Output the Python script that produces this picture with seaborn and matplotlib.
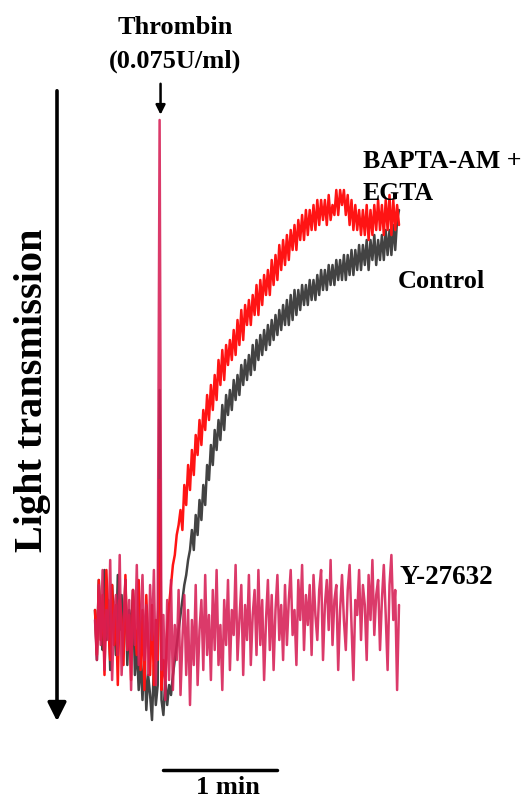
import numpy as np
import pandas as pd
import matplotlib
matplotlib.use("Agg")
import matplotlib.pyplot as plt
import seaborn as sns

# traces sampled every 1 s (t = 0..160 s), values = light transmission (arb. units)
control = [4, -6, 10, 1, -4, 12, -2, 6, -8, 9, 2, -5, 11, 0, 7, -3, 10, -7, 4, -1,
           8, -9, -3, -12, -6, -14, -4, -16, -9, -13, -18, -7, -15, -11,
           48,
           -14, -17, -10, -15, -11, -13, -9,
           -6, -3, 0, 3, 6, 9, 11, 14, 16,
           20, 16, 23, 19, 26, 22, 29, 25, 33, 30,
           37, 33, 40, 36, 42, 38, 45, 40, 47, 43,
           48, 44, 50, 46, 51, 47, 53, 49, 54, 50,
           55, 51, 57, 52, 58, 54, 59, 55, 60, 56,
           61, 57, 62, 58, 63, 59, 64, 60, 65, 61,
           66, 61, 67, 62, 68, 63, 68, 64, 69, 65,
           69, 65, 70, 66, 70, 66, 71, 67, 72, 68,
           72, 68, 73, 69, 73, 69, 74, 70, 74, 70,
           75, 70, 75, 71, 76, 71, 76, 72, 77, 72,
           77, 73, 78, 72, 78, 74, 79, 73, 78, 74,
           79, 74, 80, 75, 80, 75, 81, 76, 82, 84]

bapta = [4, -5, 10, -2, 7, -9, 12, 1, -6, 9, -3, 5, -11, 6, 2, -7, 11, -4, 3, -10,
         8, 0, -5, 10, -8, 4, -12, 7, -3, -9, 5, -11, 2, -6,
         30,
         -12, -6, -10, 0, 5, 9, 13, 15, 19, 21,
         24, 20, 29, 25, 33, 28, 36, 31, 39, 35, 42, 37, 44, 40, 47, 42,
         49, 44, 51, 46, 54, 49, 56, 50, 57, 53,
         58, 54, 60, 55, 62, 57, 64, 58, 65, 61,
         66, 61, 67, 63, 69, 63, 70, 65, 71, 67,
         72, 67, 74, 69, 75, 70, 77, 72, 78, 73,
         79, 74, 80, 76, 81, 76, 82, 78, 83, 78,
         84, 79, 84, 80, 85, 80, 86, 81, 86, 82,
         86, 81, 87, 82, 85, 83, 88, 83, 88, 85,
         88, 83, 87, 81, 86, 80, 85, 80, 84, 79,
         84, 79, 85, 78, 84, 79, 85, 80, 86, 80,
         85, 79, 86, 80, 87, 79, 86, 80, 85, 81]

y27632 = [2, -6, 9, -3, 12, -8, 4, -2, 14, -10, 3, 7, -5, 15, -9, 1, 10, -4, 6, -12,
          8, -3, 13, -7, 2, 11, -6, 5, -9, 9, -2, 12, -11, 4,
          102,
          -8, 3, -14, 6, -10, 10, -12, 1, -6, 8, -13, -2, 7, -9, 4, -15, 2, -7, 9, -11,
          0, 6, -8, 11, -5,
          3, -10, 8, -4, 12, -7, 1, -12, 6, -3, 10, -8, 4, -1, 13, -6, 2, 9, -9, 5,
          -2, 11, -7, 3, 8, -5, 12, -3, 6, -10, 2, 10, -4, 7, -8, 4, 11, -2, 5, -6,
          9, -3, 6, 12, -1, 4, -7, 10, 2, 13, -4, 7, 1, 9, -5, 11, 3, -2, 8, 12,
          -6, 5, 10, 0, 14, -3, 6, 9, -8, 4, 11, 2, -4, 8, 13, 1, -10, 6, 3, 12,
          -2, 9, 5, -6, 11, 2, 14, -1, 7, 10, -4, 6, 13, 3, -8, 9, 15, 2, 8, -12, 5]

thrombin_t = 34.5
scale_start = 36
scale_len = 60  # 1 min

sns.set_style("white")
plt.rcParams['font.family'] = ['Liberation Serif', 'DejaVu Serif']
plt.rcParams['font.weight'] = 'bold'
plt.rcParams['text.color'] = 'black'

fig = plt.figure(figsize=(5.23, 8), dpi=100)
ax = fig.add_axes([0, 0, 1, 1])

for vals, col, a in [(control, '#222222', 0.85), (bapta, '#ff1414', 1.0), (y27632, '#d61f55', 0.88)]:
    df = pd.DataFrame({'t': np.arange(len(vals)), 'v': vals})
    sns.lineplot(data=df, x='t', y='v', ax=ax, color=col, alpha=a, lw=1.8, estimator=None)

ax.set_xlim(-50, 225.26)
ax.set_ylim(-34, 126)
ax.axis('off')

# thrombin arrow
ax.annotate('', xy=(thrombin_t, 102.5), xytext=(thrombin_t, 109.8),
            arrowprops=dict(arrowstyle='-|>', lw=1.8, color='black', mutation_scale=14))
fig.text(0.335, 1 - 28 / 800, 'Thrombin', ha='center', va='center', fontsize=19, fontweight='bold')
fig.text(0.335, 1 - 61 / 800, '(0.075U/ml)', ha='center', va='center', fontsize=19, fontweight='bold')

# scale bar
ax.plot([scale_start, scale_start + scale_len], [-28, -28], color='black', lw=2.5)
ax.text(scale_start + scale_len / 2 + 4, -31.5, '1 min', ha='center', va='center', fontsize=19, fontweight='bold')

# trace labels
fig.text(363 / 523, 1 - 162 / 800, 'BAPTA-AM +', ha='left', va='center', fontsize=18.5, fontweight='bold')
fig.text(363 / 523, 1 - 194 / 800, 'EGTA', ha='left', va='center', fontsize=18.5, fontweight='bold')
fig.text(398 / 523, 1 - 281 / 800, 'Control', ha='left', va='center', fontsize=19, fontweight='bold')
fig.text(400 / 523, 1 - 577 / 800, 'Y-27632', ha='left', va='center', fontsize=19.5, fontweight='bold')

# y arrow
fig.add_artist(matplotlib.patches.FancyArrowPatch((57 / 523, 1 - 88 / 800), (57 / 523, 1 - 724 / 800),
               transform=fig.transFigure, arrowstyle='-|>', lw=2.6, color='black', mutation_scale=28))
fig.text(33 / 523, 1 - 390 / 800, 'Light transmission', rotation=90, ha='center', va='center',
         fontsize=29, fontweight='bold')

fig.savefig('out.png', dpi=100)
